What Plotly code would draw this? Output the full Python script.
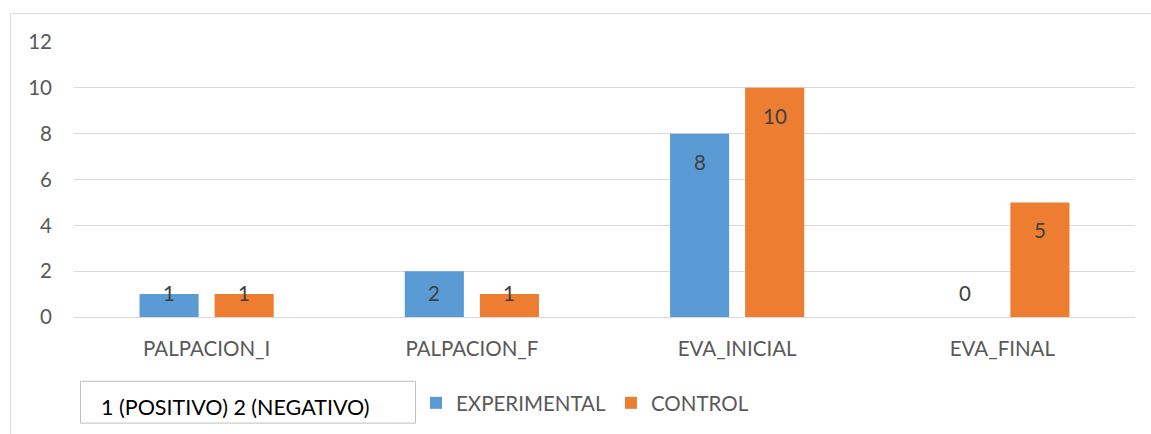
import plotly.graph_objects as go

# Categories and series values
categories = ["PALPACION_I", "PALPACION_F", "EVA_INICIAL", "EVA_FINAL"]
experimental = [1, 2, 8, 0]
control = [1, 1, 10, 5]
series_names = ["EXPERIMENTAL", "CONTROL"]
y_ticks = [0, 2, 4, 6, 8, 10, 12]
note_text = "1 (POSITIVO) 2 (NEGATIVO)"

BLUE = "#5B9BD5"
ORANGE = "#ED7D31"
FONT = "Lato"
FS = 20.5
W, H = 1151, 434
ML, MR, MT, MB = 74, 16, 42, 116
PW = W - ML - MR
PH = H - MT - MB

fig = go.Figure()
for name, vals, color in [(series_names[0], experimental, BLUE),
                          (series_names[1], control, ORANGE)]:
    fig.add_trace(go.Bar(
        name=name, x=categories, y=vals, marker_color=color,
        marker_line_width=0,
    ))

# Value labels placed near the top inside each bar (or just above the baseline for short bars)
slot_offsets = [-0.1415, 0.1415]
for s, vals in enumerate([experimental, control]):
    for i, v in enumerate(vals):
        if v >= 3:
            yv, shift = v, -28
        else:
            yv, shift = 0, 24.5
        fig.add_annotation(
            x=i + slot_offsets[s], y=yv, xref="x", yref="y",
            text=str(v), showarrow=False, yshift=shift,
            xanchor="center", yanchor="middle",
            font=dict(family=FONT, size=FS, color="#404040"),
        )

def px_x(p):
    return (p - ML) / PW

def px_y(p):
    return 1 - (p - MT) / PH

shapes = [
    # outer chart frame
    dict(type="rect", xref="paper", yref="paper",
         x0=px_x(10.5), x1=px_x(1170), y0=px_y(13.5), y1=px_y(450),
         line=dict(color="#D9D9D9", width=1), fillcolor="rgba(0,0,0,0)", layer="below"),
    # note box
    dict(type="rect", xref="paper", yref="paper",
         x0=px_x(80.5), x1=px_x(415.5), y0=px_y(382.5), y1=px_y(424.5),
         line=dict(color="#BFBFBF", width=1), fillcolor="white"),
]
fig.add_annotation(
    xref="paper", yref="paper", x=px_x(99), y=px_y(408),
    text=note_text, showarrow=False, xanchor="left", yanchor="middle",
    font=dict(family=FONT, size=21.5, color="#000000"),
)

fig.update_layout(
    width=W, height=H,
    margin=dict(l=ML, r=MR, t=MT, b=MB, pad=0),
    paper_bgcolor="white", plot_bgcolor="white",
    barmode="group", bargap=0.434, bargroupgap=0.213,
    font=dict(family=FONT, size=FS, color="#595959"),
    shapes=shapes,
    showlegend=True,
    legend=dict(
        orientation="h", x=px_x(416), y=px_y(403), xanchor="left", yanchor="middle",
        font=dict(family=FONT, size=FS, color="#595959"),
        bgcolor="rgba(0,0,0,0)", itemclick=False,
    ),
    xaxis=dict(
        showgrid=False, showline=False, zeroline=False, ticks="",
        ticklabelstandoff=17, tickfont=dict(family=FONT, size=FS, color="#595959"),
    ),
    yaxis=dict(
        range=[0, 12], tickvals=y_ticks, showgrid=True, gridcolor="#D9D9D9",
        gridwidth=1, zeroline=True, zerolinecolor="#D9D9D9", zerolinewidth=1,
        showline=False, ticks="", ticklabelstandoff=21,
        tickfont=dict(family=FONT, size=FS, color="#595959"),
    ),
)

fig.write_html("out.html")
